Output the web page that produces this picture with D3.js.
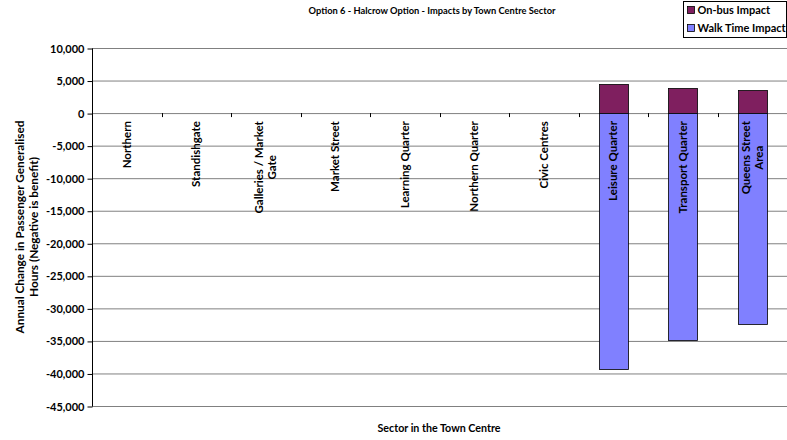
<!DOCTYPE html>
<html>
<head>
<meta charset="utf-8">
<script src="https://cdn.jsdelivr.net/npm/d3@7"></script>
<style>
body { margin: 0; background: #fff; }
text { font-family: Lato, "Liberation Sans", sans-serif; font-weight: bold; fill: #000; }
</style>
</head>
<body>
<div id="chart"></div>
<script>
// data
var categories = ["Northern", "Standishgate", "Galleries / Market Gate", "Market Street", "Learning Quarter",
  "Northern Quarter", "Civic Centres", "Leisure Quarter", "Transport Quarter", "Queens Street Area"];
var categoryLines = [["Northern"], ["Standishgate"], ["Galleries / Market", "Gate"], ["Market Street"], ["Learning Quarter"],
  ["Northern Quarter"], ["Civic Centres"], ["Leisure Quarter"], ["Transport Quarter"], ["Queens Street", "Area"]];
var onBus = [0, 0, 0, 0, 0, 0, 0, 4400, 3900, 3600];
var walkTime = [0, 0, 0, 0, 0, 0, 0, -39300, -34900, -32400];
var yTicks = [10000, 5000, 0, -5000, -10000, -15000, -20000, -25000, -30000, -35000, -40000, -45000];
var seriesNames = ["On-bus Impact", "Walk Time Impact"];
var seriesColors = ["#7F1F5F", "#8080FF"];

var W = 787, H = 440;
var margin = {top: 48, right: 0, bottom: 34, left: 92};

var svg = d3.select("#chart").append("svg")
    .attr("width", W)
    .attr("height", H);

var x = d3.scaleBand()
    .domain(categories)
    .range([margin.left, W - margin.right]);

var y = d3.scaleLinear()
    .domain([-45000, 10000])
    .range([H - margin.bottom, margin.top]);

var fmt = function(d) { return d3.format(",")(d).replace("\u2212", "-"); };

// gridlines
svg.append("g").selectAll("line")
    .data(yTicks)
  .enter().append("line")
    .attr("x1", margin.left)
    .attr("x2", W - margin.right)
    .attr("y1", function(d) { return y(d) + 0.5; })
    .attr("y2", function(d) { return y(d) + 0.5; })
    .style("stroke", "#808080")
    .style("stroke-width", 1);

// y axis
var yAxis = d3.axisLeft(y).tickValues(yTicks).tickSize(5).tickPadding(3).tickFormat(fmt);
var gy = svg.append("g")
    .attr("transform", "translate(" + (margin.left + 0.5) + ",0.5)")
    .call(yAxis);
gy.select(".domain").attr("d", "M0," + y(10000) + "V" + y(-45000)).style("stroke", "#000");
gy.selectAll(".tick line").style("stroke", "#000");
gy.selectAll(".tick text").style("font-size", "11px").style("font-family", null);

// x ticks on the zero line
var edges = categories.map(function(c) { return x(c); }).concat([x.range()[1]]);
svg.append("g").selectAll("line")
    .data(edges.slice(1))
  .enter().append("line")
    .attr("x1", function(d) { return Math.round(d) + 0.5; })
    .attr("x2", function(d) { return Math.round(d) + 0.5; })
    .attr("y1", y(0))
    .attr("y2", y(0) + 4)
    .style("stroke", "#000");

// bars
var barW = x.bandwidth() * 0.42;
var barData = [];
categories.forEach(function(c, i) {
  if (onBus[i] !== 0) barData.push({cat: c, v0: 0, v1: onBus[i], s: 0});
  if (walkTime[i] !== 0) barData.push({cat: c, v0: walkTime[i], v1: 0, s: 1});
});

svg.append("g").selectAll("rect")
    .data(barData)
  .enter().append("rect")
    .attr("x", function(d) { return Math.round(x(d.cat) + (x.bandwidth() - barW) / 2) + 0.5; })
    .attr("y", function(d) { return Math.round(y(d.v1)) + 0.5; })
    .attr("width", Math.round(barW))
    .attr("height", function(d) { return Math.round(y(d.v0)) - Math.round(y(d.v1)); })
    .style("fill", function(d) { return seriesColors[d.s]; })
    .style("stroke", "#000")
    .style("stroke-width", 0.8);

// category labels, rotated
var labelTop = y(0) + 8;
var lineGap = 13;
var lab = svg.append("g").selectAll("g")
    .data(categories)
  .enter().append("g");

lab.each(function(c, i) {
  var g = d3.select(this);
  var lines = categoryLines[i];
  var cx = x(c) + x.bandwidth() / 2;
  var texts = lines.map(function(t, k) {
    return g.append("text")
      .attr("text-anchor", "middle")
      .attr("dy", "0.35em")
      .style("font-size", "11.5px")
      .text(t);
  });
  var maxLen = d3.max(texts, function(t) { return t.node().getComputedTextLength(); });
  var cy = labelTop + maxLen / 2;
  texts.forEach(function(t, k) {
    var off = (k - (lines.length - 1) / 2) * lineGap;
    t.attr("transform", "translate(" + (cx + off) + "," + cy + ") rotate(-90)");
  });
});

// title
svg.append("text")
    .attr("x", 432)
    .attr("y", 14)
    .attr("text-anchor", "middle")
    .style("font-size", "9.3px")
    .text("Option 6 - Halcrow Option - Impacts by Town Centre Sector");

// x axis title
svg.append("text")
    .attr("x", 439)
    .attr("y", 432)
    .attr("text-anchor", "middle")
    .style("font-size", "10.7px")
    .text("Sector in the Town Centre");

// y axis title
var yl = svg.append("text")
    .attr("transform", "translate(28," + ((margin.top + H - margin.bottom) / 2) + ") rotate(-90)")
    .attr("text-anchor", "middle")
    .style("font-size", "11.8px");
yl.append("tspan").attr("x", 0).attr("dy", "-0.3em").text("Annual Change in Passenger Generalised");
yl.append("tspan").attr("x", 0).attr("dy", "1.15em").text("Hours (Negative is benefit)");

// legend
var legend = svg.append("g").attr("transform", "translate(683.5,1.5)");
legend.append("rect")
    .attr("width", 103)
    .attr("height", 36)
    .style("fill", "#fff")
    .style("stroke", "#000")
    .style("stroke-width", 1);

var item = legend.selectAll(".legend")
    .data(seriesNames)
  .enter().append("g")
    .attr("class", "legend")
    .attr("transform", function(d, i) { return "translate(4," + (5 + i * 18) + ")"; });

item.append("rect")
    .attr("width", 7)
    .attr("height", 7)
    .style("fill", function(d, i) { return seriesColors[i]; })
    .style("stroke", "#000")
    .style("stroke-width", 0.8);

item.append("text")
    .attr("x", 10)
    .attr("y", 4)
    .attr("dy", "0.35em")
    .style("font-size", "11px")
    .text(function(d) { return d; });
</script>
</body>
</html>
